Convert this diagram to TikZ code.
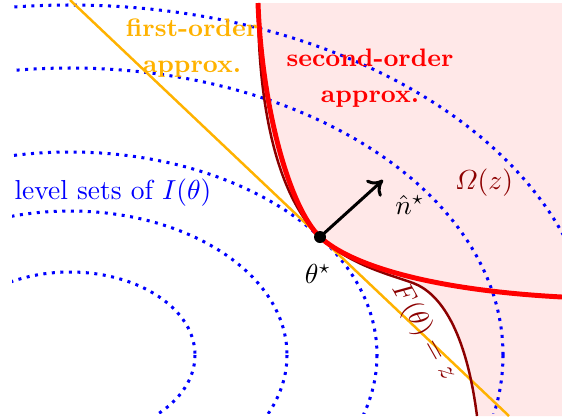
\documentclass[tikz,border=0pt]{standalone}
\usepackage{amsmath}
\usetikzlibrary{arrows.meta}
\definecolor{amber}{RGB}{255,178,0}
\definecolor{dred}{RGB}{140,0,0}
\definecolor{pinkfill}{RGB}{255,232,232}
\begin{document}
\begin{tikzpicture}[x=0.364pt,y=-0.364pt,
  levelset/.style={blue,dotted,line width=1.1pt},
  firstord/.style={amber,line width=0.9pt},
  secondord/.style={red,line width=1.8pt},
  truecurve/.style={dred,line width=0.9pt},
  lbl/.style={inner sep=0pt},
  boldlbl/.style={inner sep=0pt,align=center,font=\bfseries\fontsize{9.2}{13.2}\selectfont}]
\useasboundingbox (0,0) rectangle (562,416);
\coordinate (T) at (320,237);
\coordinate (N) at (383,180);
\coordinate (Ltop) at (70,0);
\coordinate (Lbot) at (509,416);
\coordinate (Ftop) at (258,3);
\coordinate (Fbend) at (413,283);
\coordinate (Fbot) at (477,416);
% feasible region Omega(z)
\fill[pinkfill] (Ftop) .. controls (258,115) and (280,199) .. (T)
  .. controls (350,265) and (388,274) .. (Fbend)
  .. controls (440,293) and (466,330) .. (Fbot)
  -- (562,416) -- (562,3) -- cycle;
% level sets
\begin{scope}
\clip (12,0) rectangle (562,413);
\draw[levelset] (70,355) ellipse [x radius=125, y radius=83];
\draw[levelset] (70,355) ellipse [x radius=217, y radius=144];
\draw[levelset] (70,355) ellipse [x radius=307, y radius=203];
\draw[levelset] (70,355) ellipse [x radius=433, y radius=287];
\draw[levelset] (70,355) ellipse [x radius=525, y radius=350];
\end{scope}
% first-order
\draw[firstord] (Ltop) -- (Lbot);
% true level set F = z
\draw[truecurve] (Ftop) .. controls (258,115) and (280,199) .. (T)
  .. controls (350,265) and (388,274) .. (Fbend)
  .. controls (440,293) and (466,330) .. (Fbot);
% second-order
\draw[secondord] (258,3) .. controls (262,110) and (290,208.5) .. (T)
  .. controls (350,265) and (430,290) .. (562,297);
% normal
\draw[line width=1.1pt,-{To[length=5pt,width=8pt]}] (T) -- (N);
\fill (T) circle [radius=6];
% labels
\node[boldlbl,amber] (fo) at (192,48) {first-order\\approx.};
\node[boldlbl,red] (so) at (370,78) {second-order\\approx.};
\node[lbl,blue] (ls) at (113,193) {level sets of $I(\theta)$};
\node[lbl] (nh) at (410,205) {$\hat n^\star$};
\node[lbl,dred] (om) at (484,183) {$\varOmega(z)$};
\node[lbl] (th) at (318,274) {$\theta^\star$};
\node[lbl,dred,rotate=-60.5] (fz) at (424,332) {$F(\theta) = z$};
\end{tikzpicture}
\end{document}
